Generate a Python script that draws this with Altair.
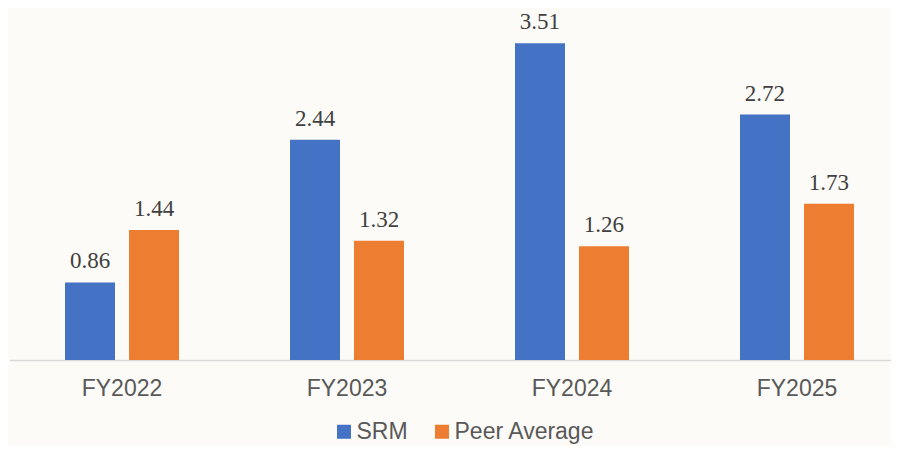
import altair as alt
import pandas as pd

years = ["FY2022", "FY2023", "FY2024", "FY2025"]
series = ["SRM", "Peer Average"]
srm = [0.86, 2.44, 3.51, 2.72]
peer = [1.44, 1.32, 1.26, 1.73]
colors = ["#4472C4", "#ED7D31"]

rows = []
for i, y in enumerate(years):
    rows.append({"year": y, "series": "SRM", "value": srm[i], "label": f"{srm[i]:.2f}"})
    rows.append({"year": y, "series": "Peer Average", "value": peer[i], "label": f"{peer[i]:.2f}"})
df = pd.DataFrame(rows)

x = alt.X("year:N", sort=years, title=None,
          scale=alt.Scale(paddingInner=0.4933, paddingOuter=0.2467, range=[0, 900]),
          axis=alt.Axis(labelFont="Liberation Sans", labelFontSize=23, labelColor="#595959",
                        labelAngle=0, ticks=False, domainColor="#D9D9D9", domainWidth=1.5,
                        labelPadding=35, labelBaseline="alphabetic"))
xo = alt.XOffset("series:N", sort=series,
                 scale=alt.Scale(paddingInner=0.21875, paddingOuter=0))
y = alt.Y("value:Q", scale=alt.Scale(domain=[0, 3.9], nice=False, zero=True), axis=None)

base = alt.Chart(df).encode(x=x, xOffset=xo, y=y)

bars = base.mark_bar().encode(
    color=alt.Color("series:N", sort=series,
                    scale=alt.Scale(domain=series, range=colors),
                    legend=alt.Legend(title=None, orient="none", direction="horizontal",
                                      legendX=323, legendY=412,
                                      symbolType="square", symbolSize=196, symbolStrokeWidth=0,
                                      labelFont="Liberation Sans", labelFontSize=23,
                                      labelColor="#595959", columnPadding=22, symbolOffset=0,
                                      labelOffset=1))
)

texts = base.mark_text(baseline="alphabetic", dy=-14, font="Liberation Serif", fontSize=23,
                       color="#404040").encode(text="label:N")

chart = (bars + texts).properties(
    width=881.5, height=352,
    background="#FCFBF7",
    autosize="none",
    padding={"left": 1.5, "top": 0, "right": 0, "bottom": 86},
).configure_view(stroke=None)

chart.save("out.html", embed_options={"renderer": "svg", "actions": False})
